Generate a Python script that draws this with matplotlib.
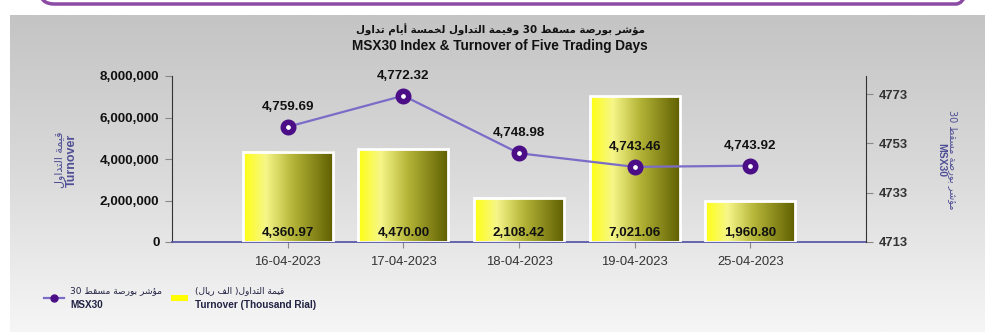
import numpy as np
import matplotlib
matplotlib.use("Agg")
import matplotlib.pyplot as plt
from matplotlib.colors import LinearSegmentedColormap
from matplotlib.patches import Rectangle, FancyBboxPatch

# data
dates = ["16-04-2023", "17-04-2023", "18-04-2023", "19-04-2023", "25-04-2023"]
turnover = [4360.97, 4470.00, 2108.42, 7021.06, 1960.80]   # thousand rial
msx30 = [4759.69, 4772.32, 4748.98, 4743.46, 4743.92]
left_ticks = [0, 2000000, 4000000, 6000000, 8000000]
right_ticks = [4713, 4733, 4753, 4773]

title_ar = "مؤشر بورصة مسقط 30 وقيمة التداول لخمسة أيام تداول"
title_en = "MSX30 Index & Turnover of Five Trading Days"
ylab_ar = "قيمة التداول"
ylab2_ar = "مؤشر بورصة مسقط 30"
leg_bar_ar = "قيمة التداول( الف ريال)"


# minimal arabic shaping (presentation forms) + visual order
FORMS = {
    "\u0627": (0xFE8D, False), "\u0623": (0xFE83, False), "\u0624": (0xFE85, False),
    "\u0628": (0xFE8F, True), "\u0629": (0xFE93, False), "\u062A": (0xFE95, True),
    "\u062E": (0xFEA5, True), "\u062F": (0xFEA9, False), "\u0631": (0xFEAD, False),
    "\u0633": (0xFEB1, True), "\u0634": (0xFEB5, True), "\u0635": (0xFEB9, True),
    "\u0637": (0xFEC1, True), "\u0641": (0xFED1, True), "\u0642": (0xFED5, True),
    "\u0644": (0xFEDD, True), "\u0645": (0xFEE1, True), "\u0648": (0xFEED, False),
    "\u064A": (0xFEF1, True),
}


def ar(text):
    out = []
    for w in text.split(" "):
        if not any("\u0600" <= c <= "\u06ff" for c in w):
            out.append(w)
            continue
        s = ""
        for i, c in enumerate(w):
            if c not in FORMS:
                s += c
                continue
            base, dual = FORMS[c]
            prev = w[i - 1] if i > 0 else ""
            nxt = w[i + 1] if i + 1 < len(w) else ""
            jp = prev in FORMS and FORMS[prev][1]
            jn = dual and nxt in FORMS
            if jp and jn:
                s += chr(base + 3)
            elif jp:
                s += chr(base + 1)
            elif jn:
                s += chr(base + 2)
            else:
                s += chr(base)
        out.append(s[::-1].translate(str.maketrans("()", ")(")))
    return " ".join(out[::-1])


FONT = ["Liberation Sans", "DejaVu Sans"]
AR = ["DejaVu Sans"]
plt.rcParams["font.family"] = FONT

fig = plt.figure(figsize=(10, 3.32), dpi=100)

# background panel with vertical gradient
bg = fig.add_axes([0.01, 0, 0.975, 1 - 15 / 332])
grad = np.linspace(0, 1, 256).reshape(-1, 1)
bg_cmap = LinearSegmentedColormap.from_list("bg", ["#c4c4c4", "#dadada", "#f6f6f6"])
bg.imshow(grad, aspect="auto", cmap=bg_cmap, extent=(0, 1, 0, 1))
bg.axis("off")

# purple frame peeking at the top
over = fig.add_axes([0, 0, 1, 1], zorder=5)
over.set_xlim(0, 1000)
over.set_ylim(332, 0)
over.axis("off")
over.patch.set_alpha(0)
over.add_patch(FancyBboxPatch((40, -60), 930, 64, boxstyle="round,pad=0,rounding_size=14",
                              fc="none", ec="#8b4aa3", lw=2.5, clip_on=False))

ax = fig.add_axes([0.172, 1 - 242 / 332, 0.694, 166 / 332], zorder=2)
ax.patch.set_alpha(0)
x = np.arange(len(dates))
w = 0.78
bar_cmap = LinearSegmentedColormap.from_list(
    "bar", [(0, "#ffff10"), (0.25, "#f6f68a"), (0.55, "#b4b438"), (1, "#5e5e00")])
hgrad = np.linspace(0, 1, 256).reshape(1, -1)
for xi, v in zip(x, turnover):
    h = v * 1000
    ax.imshow(hgrad, aspect="auto", cmap=bar_cmap, extent=(xi - w / 2, xi + w / 2, 0, h), zorder=2)
    ax.add_patch(Rectangle((xi - w / 2, 0), w, h, fc="none", ec="white", lw=2, zorder=3))
    ax.text(xi, 150000, f"{v:,.2f}", ha="center", va="bottom", fontsize=9.6,
            fontweight="bold", color="#111111", zorder=6)

ax.set_xlim(-1, 5)
ax.set_ylim(0, 8000000)
ax.set_yticks(left_ticks)
ax.set_yticklabels([f"{t:,}" for t in left_ticks], fontsize=9.7, fontweight="bold", color="#111111")
ax.set_xticks(x)
ax.set_xticklabels(dates, fontsize=9.4, color="#333333")
ax.tick_params(axis="y", length=5, color="#888888", pad=4)
ax.tick_params(axis="x", length=4, color="#888888", pad=6)
ax.spines["top"].set_visible(False)
ax.spines["right"].set_visible(False)
ax.spines["left"].set_color("#333333")
ax.spines["bottom"].set_color("#5a5aa8")
ax.spines["bottom"].set_linewidth(1.3)

ax2 = ax.twinx()
ax2.set_zorder(3)
ax2.plot(x, msx30, color="#7b6cc8", lw=1.6, marker="o", ms=7.5, mfc="white",
         mec="#4b0e86", mew=4, zorder=4)
for xi, v in zip(x, msx30):
    ax2.annotate(f"{v:,.2f}", (xi, v), xytext=(0, 10), textcoords="offset points",
                 ha="center", va="bottom", fontsize=9.6, fontweight="bold", color="#111111")
ax2.set_ylim(4713, 4713 + 60 * 166 / 148)
ax2.set_yticks(right_ticks)
ax2.set_yticklabels([str(t) for t in right_ticks], fontsize=9.4, fontweight="bold", color="#333333")
ax2.tick_params(axis="y", length=5, color="#888888", pad=4)
for s in ["top", "left", "bottom"]:
    ax2.spines[s].set_visible(False)
ax2.spines["right"].set_color("#333333")

# axis labels
lab_col = "#4f4f96"
fig.text(60 / 1000, 1 - 160 / 332, ar(ylab_ar), rotation=90, ha="center", va="center",
         fontsize=8, color=lab_col, family=AR)
fig.text(72 / 1000, 1 - 160 / 332, "Turnover", rotation=90, ha="center", va="center",
         fontsize=9, fontweight="bold", color=lab_col)
fig.text(953 / 1000, 1 - 160 / 332, ar(ylab2_ar), rotation=270, ha="center", va="center",
         fontsize=7, color=lab_col, family=AR)
fig.text(941 / 1000, 1 - 160 / 332, "MSX30", rotation=270, ha="center", va="center",
         fontsize=7.5, fontweight="bold", color=lab_col)

# titles
fig.text(0.5, 1 - 30 / 332, ar(title_ar), ha="center", va="center", fontsize=7.4,
         fontweight="bold", color="#111111", family=AR)
fig.text(0.5, 1 - 46 / 332, title_en, ha="center", va="center", fontsize=9.8,
         fontweight="bold", color="#111111")

# legend
over.plot([44, 64], [298, 298], color="#7b6cc8", lw=1.6)
over.plot([54], [298], marker="o", ms=5, mfc="#4b0e86", mec="#4b0e86")
over.text(70, 291, ar(ylab2_ar), ha="left", va="center", fontsize=6.5, color="#222244", family=AR)
over.text(70, 305, "MSX30", ha="left", va="center", fontsize=7.2, fontweight="bold", color="#222244")
over.add_patch(Rectangle((171, 295), 17, 6, fc="#ffff00", ec="none"))
over.text(195, 291, ar(leg_bar_ar), ha="left", va="center", fontsize=6.5, color="#222244", family=AR)
over.text(195, 305, "Turnover (Thousand Rial)", ha="left", va="center", fontsize=7.2,
          fontweight="bold", color="#222244")

fig.savefig("out.png", dpi=100, facecolor="white")
